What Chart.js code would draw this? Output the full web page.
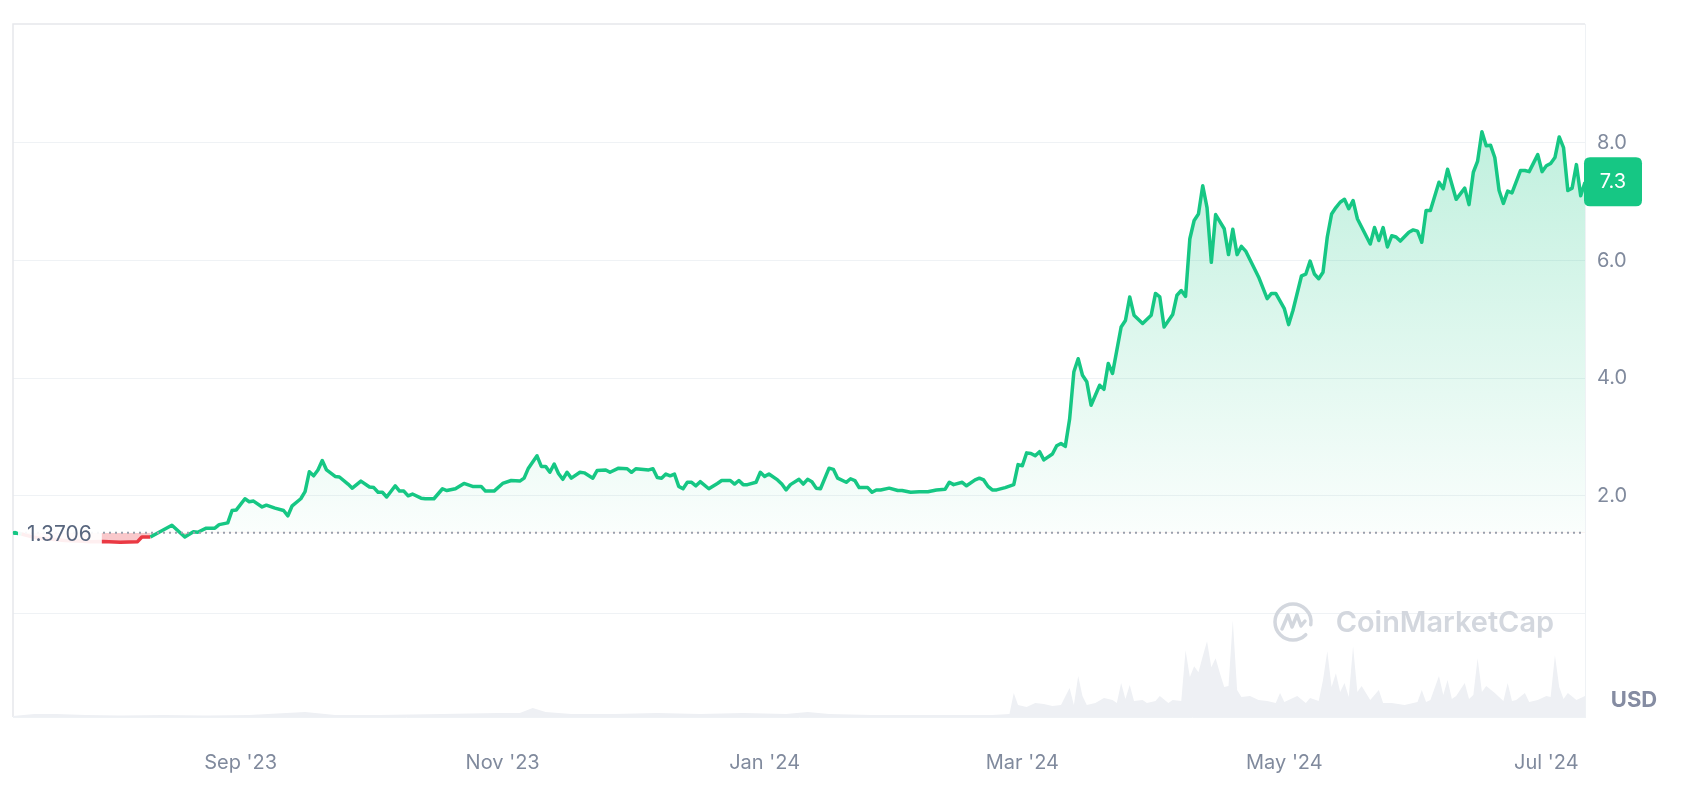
<!DOCTYPE html>
<html>
<head>
<meta charset="utf-8">
<script src="https://cdn.jsdelivr.net/npm/chart.js@4.4.1/dist/chart.umd.min.js"></script>
<style>
  html, body { margin: 0; padding: 0; background: #fff; }
  #wrap { width: 1692px; height: 788px; position: relative; }
</style>
</head>
<body>
<div id="wrap"><canvas id="priceChart"></canvas></div>
<script>
// days counted from 10 Jul 2023 (day 0) to 10 Jul 2024 (day 366)
const priceDays = [
    0, 2, 4, 6, 9, 12, 15, 18, 21, 25, 29, 30, 32, 34, 37, 40, 42, 43, 45, 47,
    48, 50, 51, 52, 54, 55, 56, 58, 59, 61, 63, 64, 65, 67, 68, 69, 70, 71, 72, 73,
    75, 76, 78, 79, 81, 83, 84, 85, 86, 87, 89, 90, 91, 92, 93, 95, 96, 98, 100, 101,
    103, 105, 107, 109, 110, 112, 114, 116, 118, 119, 120, 122, 123, 124, 125, 126, 127, 128, 129, 130,
    132, 133, 135, 136, 138, 139, 141, 143, 144, 145, 148, 149, 150, 151, 152, 153, 154, 155, 156, 157,
    158, 159, 160, 162, 164, 165, 167, 168, 169, 170, 171, 173, 174, 175, 176, 178, 179, 180, 181, 183,
    184, 185, 186, 187, 188, 190, 191, 192, 194, 195, 196, 197, 199, 200, 201, 202, 204, 206, 207, 209,
    211, 213, 215, 217, 218, 219, 221, 222, 224, 225, 226, 227, 228, 229, 231, 233, 234, 235, 236, 237,
    238, 239, 240, 242, 243, 244, 245, 246, 247, 248, 249, 250, 251, 253, 254, 255, 256, 258, 259, 260,
    261, 263, 265, 266, 267, 268, 270, 271, 272, 273, 274, 275, 276, 277, 278, 279, 280, 282, 283, 284,
    285, 286, 287, 290, 292, 293, 294, 296, 297, 298, 300, 301, 302, 303, 304, 305, 306, 307, 308, 309,
    310, 311, 312, 313, 316, 317, 318, 319, 320, 321, 322, 323, 325, 326, 327, 328, 329, 330, 332, 333,
    334, 336, 338, 339, 340, 341, 342, 343, 344, 345, 346, 347, 348, 349, 351, 352, 353, 355, 356, 357,
    358, 359, 360, 361, 362, 363, 364, 365, 366
];
const prices = [
    1.3706, 1.35, 1.31, 1.28, 1.26, 1.24, 1.23, 1.22, 1.225, 1.21, 1.22, 1.30, 1.30, 1.38, 1.50, 1.30, 1.39, 1.38, 1.45, 1.45,
    1.51, 1.54, 1.75, 1.76, 1.95, 1.90, 1.91, 1.81, 1.84, 1.79, 1.75, 1.66, 1.83, 1.95, 2.07, 2.41, 2.34, 2.44, 2.60, 2.44,
    2.33, 2.32, 2.20, 2.13, 2.25, 2.15, 2.14, 2.06, 2.06, 1.98, 2.17, 2.08, 2.08, 2.00, 2.03, 1.96, 1.95, 1.95, 2.12, 2.09,
    2.12, 2.21, 2.16, 2.16, 2.08, 2.08, 2.21, 2.26, 2.25, 2.30, 2.47, 2.68, 2.50, 2.50, 2.40, 2.54, 2.38, 2.28, 2.40, 2.30,
    2.40, 2.39, 2.30, 2.43, 2.44, 2.40, 2.47, 2.46, 2.40, 2.46, 2.44, 2.46, 2.31, 2.30, 2.37, 2.34, 2.37, 2.16, 2.12, 2.23,
    2.23, 2.17, 2.24, 2.12, 2.21, 2.26, 2.26, 2.20, 2.26, 2.19, 2.19, 2.23, 2.40, 2.33, 2.37, 2.27, 2.20, 2.10, 2.19, 2.28,
    2.20, 2.28, 2.24, 2.13, 2.12, 2.47, 2.45, 2.30, 2.23, 2.29, 2.26, 2.14, 2.14, 2.06, 2.10, 2.10, 2.13, 2.09, 2.09, 2.06,
    2.07, 2.07, 2.10, 2.11, 2.23, 2.19, 2.23, 2.17, 2.27, 2.30, 2.27, 2.16, 2.10, 2.10, 2.14, 2.19, 2.53, 2.51, 2.73, 2.72,
    2.68, 2.75, 2.61, 2.71, 2.85, 2.89, 2.84, 3.30, 4.11, 4.33, 4.05, 3.94, 3.54, 3.88, 3.81, 4.25, 4.08, 4.87, 4.98, 5.38,
    5.07, 4.93, 5.07, 5.44, 5.38, 4.87, 5.08, 5.41, 5.49, 5.39, 6.37, 6.68, 6.79, 7.27, 6.90, 5.97, 6.78, 6.54, 6.10, 6.53,
    6.10, 6.24, 6.16, 5.72, 5.35, 5.44, 5.44, 5.18, 4.91, 5.15, 5.74, 5.77, 5.99, 5.77, 5.69, 5.80, 6.40, 6.79, 6.90, 6.99,
    7.04, 6.88, 7.02, 6.71, 6.28, 6.56, 6.34, 6.56, 6.23, 6.42, 6.40, 6.33, 6.48, 6.52, 6.50, 6.31, 6.85, 6.85, 7.33, 7.22,
    7.55, 7.04, 7.23, 6.95, 7.50, 7.69, 8.19, 7.95, 7.96, 7.75, 7.19, 6.97, 7.18, 7.15, 7.53, 7.53, 7.51, 7.80, 7.51, 7.61,
    7.65, 7.75, 8.10, 7.92, 7.19, 7.23, 7.63, 7.10, 7.33
];
// traded volume, relative units (same day axis)
const volumeDays = [
    0, 5, 10, 17, 25, 35, 45, 55, 68, 75, 85, 100, 113, 118, 121, 124, 130, 140, 150, 160,
    170, 180, 185, 190, 200, 210, 220, 228, 232, 233, 234, 236, 238, 240, 242, 244, 246, 247, 248, 249,
    250, 252, 254, 256, 257, 258, 259, 260, 261, 263, 264, 266, 267, 269, 270, 272, 273, 274, 275, 276,
    277, 278, 279, 280, 281, 282, 283, 284, 285, 286, 288, 290, 292, 294, 295, 296, 297, 299, 301, 302,
    304, 305, 306, 307, 308, 309, 310, 311, 312, 313, 314, 316, 318, 319, 321, 324, 327, 328, 329, 330,
    332, 333, 334, 335, 336, 338, 339, 340, 341, 342, 343, 345, 347, 348, 349, 350, 352, 353, 355, 357,
    358, 359, 360, 361, 362, 364, 366
];
const volumes = [
    1, 3, 3, 2, 1.5, 2, 1.5, 2, 5, 2, 2, 3, 4, 4, 9, 5, 3, 3, 4, 3,
    4, 3, 5, 3, 2, 2, 2, 2, 3, 24, 12, 10, 14, 13, 11, 12, 29, 12, 41, 21,
    12, 14, 19, 17, 14, 34, 18, 32, 16, 17, 14, 16, 21, 14, 17, 16, 67, 40, 51, 45,
    61, 76, 50, 59, 44, 30, 31, 97, 27, 20, 21, 17, 16, 14, 24, 15, 17, 21, 14, 19,
    16, 37, 66, 30, 44, 25, 34, 20, 71, 25, 31, 17, 27, 14, 14, 12, 15, 27, 15, 17,
    41, 22, 37, 18, 21, 34, 18, 22, 59, 25, 31, 24, 16, 34, 16, 17, 24, 15, 17, 21,
    20, 62, 30, 18, 24, 17, 21
];
const monthTickDays = [53, 114, 175, 235, 296, 357];
const monthTickLabels = ["Sep '23", "Nov '23", "Jan '24", "Mar '24", "May '24", "Jul '24"];
const priceTicks = [0, 2, 4, 6, 8];
const priceTickLabels = ["", "2.0", "4.0", "6.0", "8.0"];
const basePrice = 1.3706;
const basePriceLabel = "1.3706";
const lastPriceLabel = "7.3";
const currencyLabel = "USD";
const watermarkText = "CoinMarketCap";

const green = "#16c784";
const red = "#ea3943";
const tickColor = "#808a9d";
const gridColor = "#eff2f5";

Chart.defaults.font.family = "Inter, 'Noto Sans', sans-serif";

function priceGradient(context) {
    const { chart } = context;
    const area = chart.chartArea;
    if (!area) return "rgba(22,199,132,0.15)";
    const y = chart.scales.y;
    const top = y.getPixelForValue(Math.max(...prices));
    const bottom = y.getPixelForValue(basePrice);
    const g = chart.ctx.createLinearGradient(0, top, 0, bottom);
    g.addColorStop(0, "rgba(22,199,132,0.27)");
    g.addColorStop(1, "rgba(22,199,132,0.02)");
    return g;
}

function roundRect(ctx, x, y, w, h, r) {
    ctx.beginPath();
    ctx.moveTo(x + r, y);
    ctx.lineTo(x + w - r, y);
    ctx.quadraticCurveTo(x + w, y, x + w, y + r);
    ctx.lineTo(x + w, y + h - r);
    ctx.quadraticCurveTo(x + w, y + h, x + w - r, y + h);
    ctx.lineTo(x + r, y + h);
    ctx.quadraticCurveTo(x, y + h, x, y + h - r);
    ctx.lineTo(x, y + r);
    ctx.quadraticCurveTo(x, y, x + r, y);
    ctx.closePath();
}

const decorations = {
    id: "decorations",
    beforeDraw(chart) {
        const ctx = chart.ctx;
        ctx.save();
        ctx.fillStyle = "#ffffff";
        ctx.fillRect(0, 0, chart.width, chart.height);
        ctx.restore();
    },
    beforeDatasetsDraw(chart) {
        const { ctx, chartArea: a } = chart;
        ctx.save();
        // left and top frame
        ctx.strokeStyle = "#e6e8ec";
        ctx.lineWidth = 1.5;
        ctx.beginPath();
        ctx.moveTo(a.left, a.bottom);
        ctx.lineTo(a.left, a.top);
        ctx.lineTo(a.right, a.top);
        ctx.stroke();

        // watermark
        const cx = a.right - 292, cy = a.bottom - 95;
        ctx.strokeStyle = "#d3d7de";
        ctx.lineWidth = 3.5;
        ctx.lineCap = "round";
        ctx.lineJoin = "round";
        ctx.beginPath();
        ctx.arc(cx, cy, 18, 0.25 * Math.PI, 2.05 * Math.PI);
        ctx.stroke();
        ctx.beginPath();
        ctx.moveTo(cx - 11, cy + 7);
        ctx.lineTo(cx - 5, cy - 7);
        ctx.lineTo(cx - 1, cy + 5);
        ctx.lineTo(cx + 4, cy - 7);
        ctx.lineTo(cx + 8, cy + 4);
        ctx.lineTo(cx + 12, cy - 1);
        ctx.stroke();
        ctx.font = "600 30px Inter";
        const w = ctx.measureText(watermarkText).width;
        const size = 30 * 218 / w;
        ctx.font = "600 " + size.toFixed(1) + "px Inter";
        ctx.fillStyle = "#d3d7de";
        ctx.textBaseline = "middle";
        ctx.textAlign = "right";
        ctx.fillText(watermarkText, a.right - 31, cy + 1);
        ctx.restore();
    },
    afterDatasetsDraw(chart) {
        const { ctx, chartArea: a, scales: { y } } = chart;
        const baseY = y.getPixelForValue(basePrice);
        ctx.save();

        // dotted baseline at the opening price
        ctx.strokeStyle = "#9aa0ad";
        ctx.lineWidth = 2;
        ctx.setLineDash([2, 4]);
        ctx.beginPath();
        ctx.moveTo(a.left, baseY);
        ctx.lineTo(a.right, baseY);
        ctx.stroke();
        ctx.setLineDash([]);

        // opening price label
        ctx.font = "21px Inter";
        const tw = ctx.measureText(basePriceLabel).width;
        ctx.fillStyle = "rgba(255,255,255,0.92)";
        ctx.fillRect(a.left + 5, baseY - 15, tw + 19, 30);
        ctx.fillStyle = green;
        ctx.beginPath();
        ctx.arc(a.left + 2, baseY, 2.2, 0, 2 * Math.PI);
        ctx.fill();
        ctx.fillStyle = "#58667e";
        ctx.textBaseline = "middle";
        ctx.textAlign = "left";
        ctx.fillText(basePriceLabel, a.left + 14, baseY + 2);

        // last price badge
        const lastY = y.getPixelForValue(prices[prices.length - 1]);
        roundRect(ctx, a.right - 1, lastY - 25, 58, 49, 6);
        ctx.fillStyle = green;
        ctx.fill();
        ctx.fillStyle = "#ffffff";
        ctx.font = "20px Inter";
        ctx.textAlign = "center";
        ctx.fillText(lastPriceLabel, a.right + 28, lastY);

        // currency
        ctx.font = "700 22px Inter";
        ctx.fillStyle = "#858ca2";
        ctx.fillText(currencyLabel, a.right + 49, a.bottom - 17);
        ctx.restore();
    },
};

const ctx = document.getElementById("priceChart").getContext("2d");

window.myChart = new Chart(ctx, {
    type: "line",
    data: {
        datasets: [
            {
                data: priceDays.map((d, i) => ({ x: d, y: prices[i] })),
                yAxisID: "y",
                borderColor: green,
                borderWidth: 3.5,
                borderJoinStyle: "round",
                pointRadius: 0,
                tension: 0,
                backgroundColor: priceGradient,
                fill: { target: { value: basePrice }, below: "rgba(234,57,67,0.28)" },
                segment: {
                    borderColor: (c) =>
                        c.p0.parsed.y < basePrice && c.p1.parsed.y < basePrice ? red : green,
                },
                order: 1,
            },
            {
                data: volumeDays.map((d, i) => ({ x: d, y: volumes[i] })),
                yAxisID: "yv",
                borderWidth: 0,
                pointRadius: 0,
                tension: 0,
                backgroundColor: "#eef0f4",
                fill: "origin",
                order: 2,
            },
        ],
    },
    options: {
        responsive: true,
        maintainAspectRatio: false,
        animation: false,
        devicePixelRatio: 1,
        layout: { padding: { left: 13, top: 22, right: 0, bottom: 0 } },
        plugins: {
            legend: { display: false },
            tooltip: { enabled: false },
        },
        scales: {
            x: {
                type: "linear",
                min: 0,
                max: 366,
                grid: { display: false, drawTicks: false },
                border: { display: true, color: gridColor },
                afterBuildTicks: (s) => {
                    s.ticks = monthTickDays.map((v) => ({ value: v }));
                },
                afterFit: (s) => {
                    s.height = 71;
                },
                ticks: {
                    autoSkip: false,
                    maxRotation: 0,
                    padding: 34,
                    color: tickColor,
                    font: { size: 20 },
                    callback: (v) => monthTickLabels[monthTickDays.indexOf(v)] || "",
                },
            },
            y: {
                type: "linear",
                position: "right",
                min: -1.76,
                max: 10.02,
                grid: { color: gridColor, drawTicks: false },
                border: { display: true, color: gridColor },
                afterBuildTicks: (s) => {
                    s.ticks = priceTicks.map((v) => ({ value: v }));
                },
                afterFit: (s) => {
                    s.width = 107;
                },
                ticks: {
                    padding: 12,
                    color: tickColor,
                    font: { size: 20 },
                    callback: (v) => priceTickLabels[priceTicks.indexOf(v)] || "",
                },
            },
            yv: {
                type: "linear",
                display: false,
                min: 0,
                max: 695,
            },
        },
    },
    plugins: [decorations],
});
</script>
</body>
</html>
